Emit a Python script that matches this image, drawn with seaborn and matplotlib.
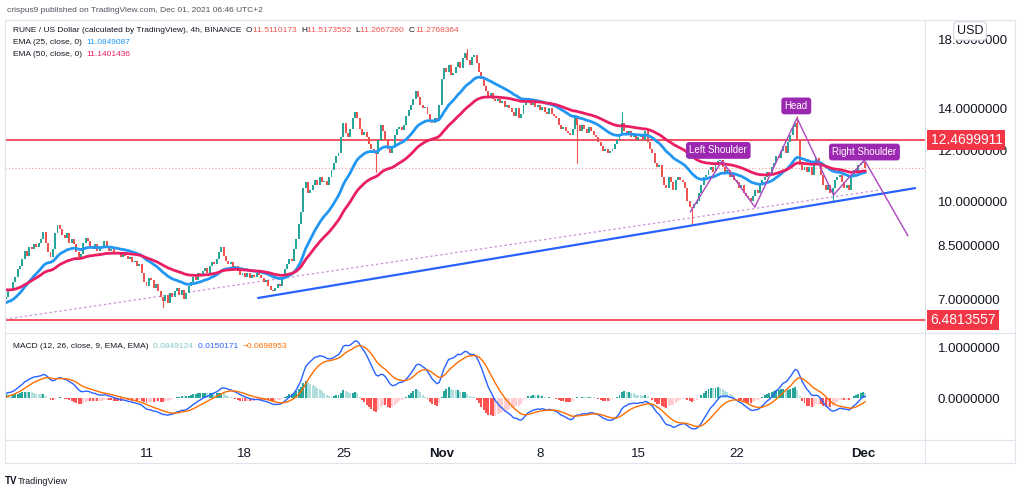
import numpy as np
import pandas as pd
import matplotlib
matplotlib.use("Agg")
import matplotlib.pyplot as plt
import matplotlib.transforms as mtransforms
from matplotlib.lines import Line2D
import seaborn as sns

# ---------------- data ----------------
# 4h closes, Oct 1 00:00 UTC .. Dec 1 04:00 UTC (6 per day)
closes = [
    7.05, 7.25, 7.20, 7.45, 7.60, 7.80,      # Oct 1
    7.90, 8.10, 8.35, 8.20, 8.45, 8.40,      # Oct 2
    8.55, 8.45, 8.60, 8.70, 8.95, 8.60,      # Oct 3
    8.30, 8.15, 8.40, 8.90, 9.15, 9.05,      # Oct 4
    8.85, 8.75, 8.90, 8.60, 8.70, 8.55,      # Oct 5
    8.30, 8.15, 8.25, 8.60, 8.75, 8.65,      # Oct 6
    8.50, 8.40, 8.55, 8.35, 8.45, 8.50,      # Oct 7
    8.65, 8.50, 8.35, 8.40, 8.25, 8.30,      # Oct 8
    8.25, 8.15, 8.30, 8.20, 8.10, 8.15,      # Oct 9
    8.00, 8.05, 7.90, 7.95, 7.70, 7.45,      # Oct 10
    7.35, 7.55, 7.50, 7.30, 7.40, 7.20,      # Oct 11
    7.05, 6.95, 7.10, 6.90, 7.15, 7.05,      # Oct 12
    7.20, 7.30, 7.10, 7.25, 7.00, 7.15,      # Oct 13
    7.35, 7.45, 7.60, 7.50, 7.70, 7.65,      # Oct 14
    7.75, 7.85, 7.70, 7.90, 8.00, 7.95,      # Oct 15
    8.10, 8.30, 8.45, 8.20, 8.05, 7.95,      # Oct 16
    8.00, 7.85, 7.90, 7.75, 7.65, 7.70,      # Oct 17
    7.60, 7.70, 7.55, 7.65, 7.60, 7.70,      # Oct 18
    7.65, 7.55, 7.45, 7.50, 7.35, 7.25,      # Oct 19
    7.20, 7.30, 7.40, 7.35, 7.60, 7.80,      # Oct 20
    7.95, 8.10, 8.05, 8.40, 8.70, 9.20,      # Oct 21
    9.60, 10.50, 10.70, 10.30, 10.40, 10.60, # Oct 22
    10.80, 10.60, 10.90, 10.70, 10.75, 10.60,# Oct 23
    10.90, 11.20, 11.50, 11.80, 11.90, 12.60,# Oct 24
    13.30, 12.80, 12.60, 13.00, 13.50, 13.80,# Oct 25
    13.50, 13.00, 12.70, 12.85, 12.60, 12.30,# Oct 26
    12.10, 11.90, 11.85, 12.50, 13.20, 12.90,# Oct 27
    12.50, 12.10, 11.90, 12.20, 12.70, 13.00,# Oct 28
    13.10, 12.95, 13.20, 13.60, 13.90, 14.20,# Oct 29
    14.50, 14.90, 14.60, 14.20, 14.00, 14.10,# Oct 30
    13.70, 13.40, 13.30, 13.50, 13.40, 14.20,# Oct 31
    15.60, 16.20, 16.00, 16.40, 15.80, 15.90,# Nov 1
    16.30, 16.60, 16.20, 16.80, 17.10, 16.70,# Nov 2
    16.40, 16.90, 17.00, 16.50, 16.00, 15.60,# Nov 3
    15.20, 14.90, 14.60, 14.80, 14.50, 14.40,# Nov 4
    14.50, 14.30, 14.40, 14.10, 14.20, 14.00,# Nov 5
    13.80, 13.60, 14.00, 13.50, 13.70, 14.20,# Nov 6
    14.40, 14.50, 14.20, 14.30, 14.10, 14.20,# Nov 7
    13.90, 14.10, 13.80, 13.70, 14.00, 13.70,# Nov 8
    13.60, 13.50, 13.20, 13.00, 13.10, 12.90,# Nov 9
    12.80, 12.70, 13.00, 13.60, 13.20, 12.90,# Nov 10
    13.20, 13.00, 12.80, 13.10, 12.90, 12.70,# Nov 11
    12.60, 12.40, 12.20, 12.00, 12.10, 11.90,# Nov 12
    12.00, 12.10, 12.30, 12.50, 12.70, 13.30,# Nov 13
    12.90, 12.70, 12.90, 12.60, 12.70, 12.50,# Nov 14
    12.60, 12.70, 12.50, 12.90, 12.40, 12.10,# Nov 15
    11.90, 11.50, 11.30, 11.40, 10.90, 10.60,# Nov 16
    10.50, 10.90, 10.70, 10.40, 10.80, 10.90,# Nov 17
    10.80, 10.70, 10.50, 10.00, 9.80, 9.75,  # Nov 18
    9.90, 10.00, 10.30, 10.60, 10.90, 11.00, # Nov 19
    11.20, 11.30, 11.10, 11.40, 11.55, 11.60,# Nov 20
    11.30, 11.10, 11.20, 10.90, 11.00, 10.80,# Nov 21
    10.70, 10.50, 10.60, 10.30, 10.20, 10.10,# Nov 22
    10.00, 10.20, 10.40, 10.30, 10.60, 10.80,# Nov 23
    10.90, 11.10, 11.00, 11.30, 11.50, 11.80,# Nov 24
    11.70, 12.00, 12.20, 11.90, 12.40, 12.70,# Nov 25
    13.10, 13.30, 12.50, 11.40, 11.20, 11.30,# Nov 26
    11.10, 11.30, 11.00, 11.50, 11.70, 11.40,# Nov 27
    11.00, 10.60, 10.40, 10.60, 10.30, 10.50,# Nov 28
    10.80, 10.90, 11.00, 10.70, 10.50, 10.60,# Nov 29
    10.40, 10.90, 11.20, 11.10, 11.40, 11.50,# Nov 30
    11.5110173, 11.2768364,                  # Dec 1
]
first_open = 7.00

# notable wicks: candle index -> extreme price
wick_index = [67, 158, 197, 244, 263, 293, 338, 353]
wick_price = [6.80, 11.10, 17.40, 11.50, 13.80, 9.20, 13.60, 10.00]

# indicator start values read at the left edge
ema25_start, ema50_start = 6.90, 7.25
ema12_start, ema26_start, signal_start = 7.00, 6.90, 0.00

# horizontal levels and last price
level_values = [12.4699911, 6.4813557]
last_close = 11.2768364

# trend lines (day since Oct 1, price)
trend_days = [17.94, 64.70]
trend_prices = [7.03, 10.48]
faint_days = [-0.43, 62.2]
faint_prices = [6.49, 10.41]

# head & shoulders zigzag
hs_days = [48.7, 50.96, 53.3, 56.3, 58.9, 61.1, 64.2]
hs_prices = [9.61, 11.57, 9.78, 13.52, 10.22, 11.61, 8.81]
hs_labels = ["Left Shoulder", "Head", "Right Shoulder"]
hs_label_days = [50.7, 56.25, 61.1]
hs_label_prices = [12.02, 14.13, 11.95]

price_ticks = [7.0, 8.5, 10.0, 12.0, 14.0, 18.0]
macd_ticks = [0.0, 1.0]
date_tick_days = [10, 17, 24, 31, 38, 45, 52, 61]
date_tick_labels = ["11", "18", "25", "Nov", "8", "15", "22", "Dec"]

# ---------------- derived series ----------------
c = np.array(closes)
o = np.concatenate([[first_open], c[:-1]])
t = np.arange(len(c)) / 6.0


def ema(values, span, start):
    a = 2.0 / (span + 1)
    out = np.empty(len(values))
    prev = start
    for i, v in enumerate(values):
        prev = a * v + (1 - a) * prev
        out[i] = prev
    return out


ema25 = ema(c, 25, ema25_start)
ema50 = ema(c, 50, ema50_start)
macd = ema(c, 12, ema12_start) - ema(c, 26, ema26_start)
signal = ema(macd, 9, signal_start)
hist = macd - signal

df = pd.DataFrame({"t": t, "ema25": ema25, "ema50": ema50,
                   "macd": macd, "signal": signal})

# ---------------- figure ----------------
sns.set_theme(style="white")
plt.rcParams['font.family'] = ['Liberation Sans', 'DejaVu Sans']

W, H = 1024, 496
fig = plt.figure(figsize=(W / 100, H / 100), dpi=100)
fig.patch.set_facecolor("white")


def fx(px):
    return px / W


def fy(py):
    return 1 - py / H


ax = fig.add_axes([fx(5), fy(333), fx(920), 313 / H])
axm = fig.add_axes([fx(5), fy(440), fx(920), 107 / H], sharex=ax)

UP, DOWN = "#26a69a", "#ef5350"
TXT = "#131722"

# candles
colors = np.where(c >= o, UP, DOWN)
ax.bar(t, c - o, bottom=o, width=0.14, color=colors, linewidth=0, zorder=3)
for i, p in zip(wick_index, wick_price):
    body = o[i] if abs(p - o[i]) < abs(p - c[i]) else c[i]
    ax.plot([t[i], t[i]], [body, p], color=colors[i], lw=0.8, zorder=3)

sns.lineplot(data=df, x="t", y="ema25", ax=ax, color="#2196f3", lw=2, zorder=4)
sns.lineplot(data=df, x="t", y="ema50", ax=ax, color="#e91e63", lw=2, zorder=4)

for lv in level_values:
    ax.axhline(lv, color="#f23645", lw=1.2, zorder=2)
ax.axhline(last_close, color="#ef5350", lw=0.8, ls=(0, (1, 2)), alpha=0.6, zorder=2)

ax.plot(trend_days, trend_prices, color="#2962ff", lw=1.6, zorder=5)
ax.plot(faint_days, faint_prices, color="#ce93d8", lw=0.9, ls=(0, (2, 2)), zorder=2)
ax.plot(hs_days, hs_prices, color="#ab47bc", lw=1.0, zorder=5)
for lab, d, p in zip(hs_labels, hs_label_days, hs_label_prices):
    ax.text(d, p, lab, ha="center", va="center", fontsize=7, color="white", zorder=6,
            bbox=dict(boxstyle="round,pad=0.35,rounding_size=0.3", fc="#9c27b0", ec="none"))

ax.set_yscale("log")
ax.set_ylim(6.19, 19.31)
ax.set_xlim(-0.071, 65.41)
ax.yaxis.tick_right()
ax.set_yticks(price_ticks)
ax.set_yticklabels([f"{v:.7f}" for v in price_ticks])
ax.yaxis.set_minor_locator(matplotlib.ticker.NullLocator())
ax.tick_params(axis="y", length=0, pad=9, labelsize=9.5, labelcolor=TXT)
ax.tick_params(axis="x", bottom=False, labelbottom=False)
ax.set_xlabel("")
ax.set_ylabel("")
for s in ax.spines.values():
    s.set_visible(False)

# price labels on axis
trans = mtransforms.blended_transform_factory(ax.transAxes, ax.transData)
for lv in level_values:
    ax.text(1.006, lv, f"{lv:.7f}", transform=trans, ha="left", va="center",
            fontsize=10, color="white", zorder=10, clip_on=False,
            bbox=dict(boxstyle="square,pad=0.22", fc="#f23645", ec="none"))

# MACD
hist_colors = []
prev = 0.0
for h in hist:
    if h >= 0:
        hist_colors.append("#26a69a" if h > prev else "#b2dfdb")
    else:
        hist_colors.append("#ffcdd2" if h > prev else "#ff5252")
    prev = h
axm.bar(t, hist, width=0.14, color=hist_colors, linewidth=0, zorder=2)
sns.lineplot(data=df, x="t", y="macd", ax=axm, color="#2962ff", lw=1, zorder=3)
sns.lineplot(data=df, x="t", y="signal", ax=axm, color="#ff6d00", lw=1, zorder=3)
axm.set_ylim(-0.82, 1.275)
axm.yaxis.tick_right()
axm.set_yticks(macd_ticks)
axm.set_yticklabels([f"{v:.7f}" for v in macd_ticks])
axm.tick_params(axis="y", length=0, pad=9, labelsize=9.5, labelcolor=TXT)
axm.set_xticks(date_tick_days)
axm.set_xticklabels(date_tick_labels)
axm.tick_params(axis="x", length=0, pad=6, labelsize=9.5, labelcolor=TXT)
for lbl in axm.get_xticklabels():
    if lbl.get_text() in ("Nov", "Dec"):
        lbl.set_fontweight("bold")
axm.set_xlabel("")
axm.set_ylabel("")
for s in axm.spines.values():
    s.set_visible(False)

# frame lines
GRID = "#e0e3eb"
for (x0, y0, x1, y1) in [(5, 20, 1015, 20), (5, 333, 1015, 333), (5, 440, 1015, 440),
                         (5, 463, 1015, 463), (925, 20, 925, 463), (1015, 20, 1015, 463),
                         (5, 20, 5, 463)]:
    fig.add_artist(Line2D([fx(x0), fx(x1)], [fy(y0), fy(y1)], color=GRID, lw=0.8))

# USD box (sits over the top price label, as in the original)
fig.text(fx(970), fy(31), "USD", ha="center", va="center", fontsize=9, color=TXT,
         bbox=dict(boxstyle="round,pad=0.25", fc="white", ec="#d1d4dc", lw=0.8))

# header texts
renderer = fig.canvas.get_renderer()


def segments(x_px, y_px, parts, size=6.0):
    x = x_px
    for txt, col in parts:
        tt = fig.text(fx(x), fy(y_px), txt, ha="left", va="center", fontsize=size, color=col)
        x += tt.get_window_extent(renderer=renderer).width


fig.text(fx(7), fy(11), "crispus9 published on TradingView.com, Dec 01, 2021 06:46 UTC+2",
         ha="left", va="center", fontsize=6.0, color="#50535e")
RED = "#ef5350"
segments(13, 30, [("RUNE / US Dollar (calculated by TradingView), 4h, BINANCE  ", TXT),
                  ("O", TXT), ("11.5110173  ", RED), ("H", TXT), ("11.5173552  ", RED),
                  ("L", TXT), ("11.2667260  ", RED), ("C", TXT), ("11.2768364", RED)])
segments(13, 42, [("EMA (25, close, 0)  ", TXT), ("11.0849087", "#2196f3")])
segments(13, 54, [("EMA (50, close, 0)  ", TXT), ("11.1401436", "#e91e63")])
segments(13, 347, [("MACD (12, 26, close, 9, EMA, EMA)  ", TXT), ("0.0849124  ", "#80cbc4"),
                   ("0.0150171  ", "#2962ff"), ("\u22120.0698953", "#ff6d00")])

# footer logo
fig.text(fx(5), fy(481), "TV", ha="left", va="center", fontsize=7, fontweight="bold", color=TXT)
fig.text(fx(18), fy(481), "TradingView", ha="left", va="center", fontsize=6.5, color=TXT)

fig.savefig("out.png", dpi=100)
